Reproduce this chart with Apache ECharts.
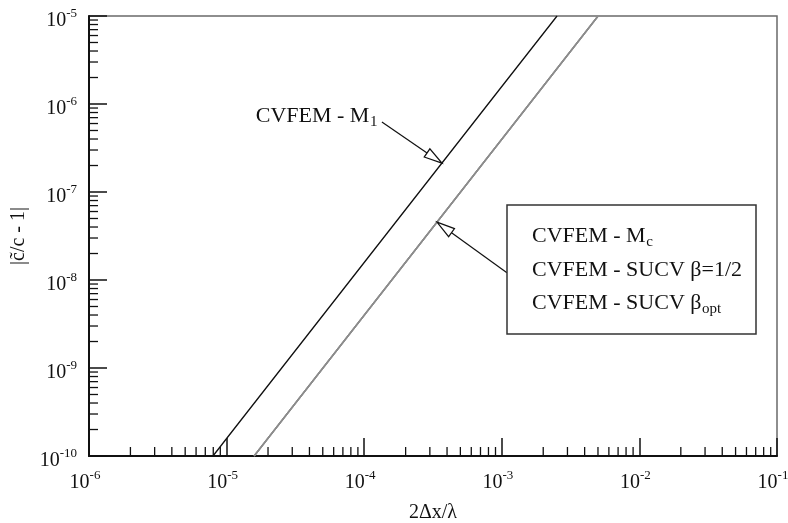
<!DOCTYPE html>
<html>
<head>
<meta charset="utf-8">
<script src="https://cdn.jsdelivr.net/npm/echarts@6/dist/echarts.min.js"></script>
<style>
  html, body { margin: 0; padding: 0; background: #fff; }
  #chart { width: 788px; height: 523px; }
</style>
</head>
<body>
<div id="chart"></div>
<script>
// Axis ranges (decades)
const xDecades = [1e-6, 1e-5, 1e-4, 1e-3, 1e-2, 1e-1];
const yDecades = [1e-10, 1e-9, 1e-8, 1e-7, 1e-6, 1e-5];

// Phase error of CVFEM - M1
const m1X = [7.96e-6, 1e-5, 1e-4, 1e-3, 2.52e-3];
const m1Y = [1e-10, 1.58e-10, 1.58e-8, 1.58e-6, 1e-5];

// CVFEM - Mc, SUCV beta=1/2 and SUCV beta_opt (curves coincide)
const mcX = [1.585e-5, 1e-4, 1e-3, 5.01e-3];
const mcY = [1e-10, 3.98e-9, 3.98e-7, 1e-5];
const sucvHalfX = [1.585e-5, 1e-4, 1e-3, 5.01e-3];
const sucvHalfY = [1e-10, 3.98e-9, 3.98e-7, 1e-5];
const sucvOptX = [1.585e-5, 1e-4, 1e-3, 5.01e-3];
const sucvOptY = [1e-10, 3.98e-9, 3.98e-7, 1e-5];

// Callout arrows: [tipX, tipY, tailX, tailY]
const m1Arrow = [3.67e-4, 2.13e-7, 1.345e-4, 6.24e-7];
const grayArrow = [3.38e-4, 4.55e-8, 1.09e-3, 1.21e-8];

// Legend entries: [main text, subscript]
const legendEntries = [
  ['CVFEM - M', 'c'],
  ['CVFEM - SUCV \u03b2=1/2', ''],
  ['CVFEM - SUCV \u03b2', 'opt']
];

const FONT = '"Liberation Serif", "Times New Roman", serif';
const INK = '#111';
const MAIN_SIZE = 22;
const SUB_SIZE = 15;

const pairs = (xs, ys) => xs.map((x, i) => [x, ys[i]]);

const measureCtx = document.createElement('canvas').getContext('2d');
function textWidth(str, size) {
  measureCtx.font = size + 'px ' + FONT;
  return measureCtx.measureText(str).width;
}

// minor tick values 2..9 within each decade
function minorTicks(decades) {
  const out = [];
  for (let i = 0; i < decades.length - 1; i++) {
    for (let k = 2; k <= 9; k++) out.push(k * decades[i]);
  }
  return out;
}
const xMinor = minorTicks(xDecades);
const yMinor = minorTicks(yDecades);

const powLabel = v => '{b|10}{s|' + Math.round(Math.log10(v)) + '}';
const labelRich = {
  b: { fontSize: 20, lineHeight: 28, fontFamily: FONT, color: INK },
  s: { fontSize: 13, lineHeight: 12, verticalAlign: 'top', fontFamily: FONT, color: INK }
};

// main text followed by a lowered subscript; (x, y) = left or right end, vertical middle
function subText(x, y, main, sub, align, z) {
  const wMain = textWidth(main, MAIN_SIZE);
  const wSub = sub ? textWidth(sub, SUB_SIZE) : 0;
  const left = align === 'right' ? x - wMain - wSub : x;
  const out = [{
    type: 'text',
    style: { x: left, y: y, text: main, align: 'left', verticalAlign: 'middle',
             fontSize: MAIN_SIZE, fontFamily: FONT, fill: INK }
  }];
  if (sub) {
    out.push({
      type: 'text',
      style: { x: left + wMain + 0.5, y: y + 6, text: sub, align: 'left', verticalAlign: 'middle',
               fontSize: SUB_SIZE, fontFamily: FONT, fill: INK }
    });
  }
  if (z != null) out.forEach(el => { el.z = z; });
  return out;
}

const chart = echarts.init(document.getElementById('chart'), null, { renderer: 'canvas' });

function arrowShape(api, a, headLen, headHalf) {
  const tip = api.coord([a[0], a[1]]);
  const tail = api.coord([a[2], a[3]]);
  const dx = tip[0] - tail[0], dy = tip[1] - tail[1];
  const len = Math.hypot(dx, dy);
  const ux = dx / len, uy = dy / len;
  const bx = tip[0] - ux * headLen, by = tip[1] - uy * headLen;
  const nx = -uy * headHalf, ny = ux * headHalf;
  return {
    tip, tail,
    children: [
      { type: 'line', shape: { x1: tail[0], y1: tail[1], x2: bx, y2: by },
        style: { stroke: INK, lineWidth: 1.2 } },
      { type: 'polygon', shape: { points: [tip, [bx + nx, by + ny], [bx - nx, by - ny]] },
        style: { fill: '#fff', stroke: INK, lineWidth: 1.2 } }
    ]
  };
}

const legendGraphics = [{
  type: 'rect', z: 10,
  shape: { x: 507, y: 205, width: 249, height: 129 },
  style: { fill: '#fff', stroke: '#333', lineWidth: 1.5 }
}];
const legendRows = [236, 270, 303];
legendEntries.forEach((e, i) => {
  subText(532, legendRows[i], e[0], e[1], 'left', 11).forEach(el => legendGraphics.push(el));
});

const option = {
  animation: false,
  backgroundColor: '#fff',
  grid: {
    left: 89, right: 11, top: 16, bottom: 67,
    show: true, borderColor: '#6a6a6a', borderWidth: 1.5,
    outerBoundsMode: 'none'
  },
  xAxis: {
    type: 'log', logBase: 10, min: 1e-6, max: 1e-1, splitNumber: 5,
    name: '2\u0394x/\u03bb', nameLocation: 'middle', nameGap: 47,
    nameTextStyle: { fontSize: 20, fontFamily: FONT, color: INK },
    axisLine: { show: true, lineStyle: { color: INK, width: 2 } },
    axisTick: { show: true, inside: true, length: 18, lineStyle: { color: INK, width: 1.5 } },
    axisLabel: { margin: 13, formatter: powLabel, rich: labelRich, padding: [0, 8, 0, 0],
                 showMinLabel: true, showMaxLabel: true },
    splitLine: { show: false }, minorTick: { show: false }
  },
  yAxis: {
    type: 'log', logBase: 10, min: 1e-10, max: 1e-5, splitNumber: 5,
    name: '|c\u0303/c - 1|', nameLocation: 'middle', nameGap: 57,
    nameTextStyle: { fontSize: 20, fontFamily: FONT, color: INK },
    axisLine: { show: true, lineStyle: { color: INK, width: 2 } },
    axisTick: { show: true, inside: true, length: 18, lineStyle: { color: INK, width: 1.5 } },
    axisLabel: { margin: 12, formatter: powLabel, rich: labelRich, padding: [10, 0, 0, 0],
                 showMinLabel: true, showMaxLabel: true },
    splitLine: { show: false }, minorTick: { show: false }
  },
  series: [
    {
      name: 'CVFEM - M1', type: 'line', data: pairs(m1X, m1Y),
      showSymbol: false, clip: true, z: 3,
      lineStyle: { color: INK, width: 1.3 }
    },
    {
      name: 'CVFEM - Mc', type: 'line', data: pairs(mcX, mcY),
      showSymbol: false, clip: true, z: 3,
      lineStyle: { color: '#8c8c8c', width: 1.5 }
    },
    {
      name: 'CVFEM - SUCV \u03b2=1/2', type: 'line', data: pairs(sucvHalfX, sucvHalfY),
      showSymbol: false, clip: true, z: 3,
      lineStyle: { color: '#8c8c8c', width: 1.5 }
    },
    {
      name: 'CVFEM - SUCV \u03b2opt', type: 'line', data: pairs(sucvOptX, sucvOptY),
      showSymbol: false, clip: true, z: 3,
      lineStyle: { color: '#8c8c8c', width: 1.5 }
    },
    {
      // minor ticks on the x axis
      type: 'custom', silent: true, clip: false, z: 4,
      data: xMinor.map(v => [v, 1e-10]),
      renderItem(params, api) {
        const p = api.coord([api.value(0), api.value(1)]);
        return { type: 'line', shape: { x1: p[0], y1: p[1], x2: p[0], y2: p[1] - 9 },
                 style: { stroke: INK, lineWidth: 1.3 } };
      }
    },
    {
      // minor ticks on the y axis
      type: 'custom', silent: true, clip: false, z: 4,
      data: yMinor.map(v => [1e-6, v]),
      renderItem(params, api) {
        const p = api.coord([api.value(0), api.value(1)]);
        return { type: 'line', shape: { x1: p[0], y1: p[1], x2: p[0] + 9, y2: p[1] },
                 style: { stroke: INK, lineWidth: 1.3 } };
      }
    },
    {
      // callout for the M1 curve
      type: 'custom', silent: true, clip: false, z: 6,
      data: [m1Arrow],
      renderItem(params, api) {
        const a = [api.value(0), api.value(1), api.value(2), api.value(3)];
        const s = arrowShape(api, a, 18, 5);
        const label = subText(s.tail[0] - 5, s.tail[1] - 6, 'CVFEM - M', '1', 'right');
        return { type: 'group', children: s.children.concat(label) };
      }
    },
    {
      // callout for the coincident curves
      type: 'custom', silent: true, clip: false, z: 6,
      data: [grayArrow],
      renderItem(params, api) {
        const a = [api.value(0), api.value(1), api.value(2), api.value(3)];
        const s = arrowShape(api, a, 18, 5);
        return { type: 'group', children: s.children };
      }
    }
  ],
  graphic: legendGraphics
};

chart.setOption(option);
</script>
</body>
</html>
